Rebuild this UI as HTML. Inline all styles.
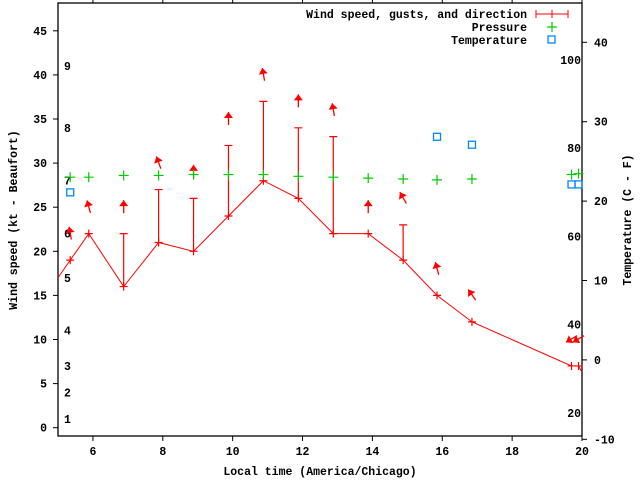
<!DOCTYPE html>
<html><head><meta charset="utf-8"><style>
html,body{margin:0;padding:0;background:#fff}
svg{display:block}
text{font-family:"Liberation Mono",monospace;font-weight:bold;font-size:11.5px;fill:#000}
</style></head><body>
<svg id="chart" width="640" height="480" viewBox="0 0 640 480" xmlns="http://www.w3.org/2000/svg">
<g id="axes"></g>
<g id="marks"></g>
<g id="legend">
 <text x="527" y="18" text-anchor="end">Wind speed, gusts, and direction</text>
 <line x1="536" y1="14" x2="568" y2="14" stroke="#f00" stroke-width="1"/>
 <line x1="536" y1="10" x2="536" y2="18" stroke="#f00"/><line x1="568" y1="10" x2="568" y2="18" stroke="#f00"/>
 <line x1="548" y1="14" x2="556" y2="14" stroke="#f00"/><line x1="552" y1="10" x2="552" y2="18" stroke="#f00"/>
 <text x="527" y="31" text-anchor="end">Pressure</text>
 <path d="M547 27H557M552 22V32" stroke="#0c0" stroke-width="1.2"/>
 <text x="527" y="44" text-anchor="end">Temperature</text>
 <rect x="548" y="36" width="7" height="7" fill="none" stroke="#08f" stroke-width="1.3"/>
</g>
<text x="320" y="475" text-anchor="middle">Local time (America/Chicago)</text>
<text transform="translate(17,220) rotate(-90)" text-anchor="middle">Wind speed (kt - Beaufort)</text>
<text transform="translate(631,220) rotate(-90)" text-anchor="middle">Temperature (C - F)</text>
</svg>
<script>
const hours = [5.35,5.88,6.88,7.88,8.88,9.88,10.88,11.88,12.88,13.88,14.88,15.85,16.85,19.7,19.9];
const windSpeed = [19,22,16,21,20,24,28,26,22,22,19,15,12,7,7];
const windGust = [null,null,22,27,26,32,37,34,33,null,23,null,null,null,null];
const windDir = [170,165,180,160,180,180,170,180,170,180,150,165,145,60,60];
const pressure = [28.4,28.4,28.6,28.6,28.7,28.7,28.7,28.5,28.4,28.3,28.2,28.1,28.2,28.7,28.8];
const tempHours = [5.35,15.85,16.85,19.7,19.9];
const tempC = [21.1,28.1,27.1,22.1,22.1];
const xTicks = [6,8,10,12,14,16,18,20];
const yTicks = [0,5,10,15,20,25,30,35,40,45];
const y2Ticks = [-10,0,10,20,30,40];
const fTicks = [20,40,60,80,100];
const beaufort = [[1,1],[2,4],[3,7],[4,11],[5,17],[6,22],[7,28],[8,34],[9,41]];

const L=58,R=582,T=3,B=436;
const X=h=>L+(h-5)/15*(R-L);
const Y=v=>427.7-v*8.82;
const Y2=c=>121.7-(c-30)*7.94;
const NS="http://www.w3.org/2000/svg";
function mk(tag,attrs,parent){const e=document.createElementNS(NS,tag);for(const k in attrs)e.setAttribute(k,attrs[k]);parent.appendChild(e);return e;}
const ax=document.getElementById('axes'), mg=document.getElementById('marks');

let fr=mk('rect',{x:L,y:T,width:R-L,height:B-T,fill:'none',stroke:'#000','stroke-width':1.3},ax);


xTicks.forEach(t=>{
 const x=X(t);
 mk('line',{x1:x,y1:B,x2:x,y2:B+5,stroke:'#000'},ax);
 mk('line',{x1:x,y1:T,x2:x,y2:T-4,stroke:'#000'},ax);
 const tx=mk('text',{x:x,y:B+19,'text-anchor':'middle'},ax);tx.textContent=t;
 
 
});
yTicks.forEach(t=>{
 const y=Y(t);
 mk('line',{x1:L-5,y1:y,x2:L,y2:y,stroke:'#000'},ax);
 const tx=mk('text',{x:L-11,y:y+4,'text-anchor':'end'},ax);tx.textContent=t;
 
 
});
y2Ticks.forEach(t=>{
 const y=Y2(t);
 mk('line',{x1:R,y1:y,x2:R+5,y2:y,stroke:'#000'},ax);
 const tx=mk('text',{x:R+12,y:y+4,'text-anchor':'start'},ax);tx.textContent=t;
 
 
});
fTicks.forEach(f=>{
 const y=Y2((f-32)*5/9);
 const tx=mk('text',{x:R-1,y:y+4,'text-anchor':'end'},ax);tx.textContent=f;
 
 
});
beaufort.forEach(b=>{
 const tx=mk('text',{x:64,y:Y(b[1])+4},ax);tx.textContent=b[0];
 
 
});

// wind line
let pts=[[L,Y(17)]].concat(hours.map((h,i)=>[X(h),Y(windSpeed[i])]));pts.push([R,Y(6.3)]);
const wl=mk('polyline',{points:pts.map(p=>p.join(',')).join(' '),fill:'none',stroke:'#f00','stroke-width':1},mg);


hours.forEach((h,i)=>{
 const x=X(h),y=Y(windSpeed[i]);
 if(windGust[i]!=null){
  const g=Y(windGust[i]);
  const eb=mk('path',{d:`M${x} ${y}V${g}M${x-4} ${g}H${x+4}`,stroke:'#f00','stroke-width':1.2,fill:'none'},mg);
  
  
 }
 const p=mk('path',{d:`M${x-4} ${y}H${x+4}M${x} ${y-4}V${y+4}`,stroke:'#f00','stroke-width':1.2},mg);
 
 
 // direction arrow
 const top=Math.max(windSpeed[i],windGust[i]||0);
 const cy=Y(top)-27, cx=x;
 const a=(windDir[i]-180)*Math.PI/180; // 180 = pointing up
 const dx=Math.sin(a),dy=-Math.cos(a);
 const len=13;
 const tx0=cx-dx*len/2, ty0=cy-dy*len/2, hx=cx+dx*len/2, hy=cy+dy*len/2;
 const g=mk('g',{},mg);
 
 
 mk('line',{x1:tx0,y1:ty0,x2:hx,y2:hy,stroke:'#f00','stroke-width':1.3},g);
 const px=-dy,py=dx;
 const bx=hx-dx*6,by=hy-dy*6;
 mk('polygon',{points:`${hx},${hy} ${bx+px*4.5},${by+py*4.5} ${bx-px*4.5},${by-py*4.5}`,fill:'#f00'},g);
});
pressure.forEach((v,i)=>{
 const x=X(hours[i]),y=Y(v);
 const p=mk('path',{d:`M${x-5} ${y}H${x+5}M${x} ${y-5}V${y+5}`,stroke:'#0c0','stroke-width':1.2},mg);
 
 
});
tempC.forEach((c,i)=>{
 const x=X(tempHours[i]),y=Y2(c);
 const r=mk('rect',{x:x-3.5,y:y-3.5,width:7,height:7,fill:'none',stroke:'#08f','stroke-width':1.3},mg);
 
 
});
</script>
</body></html>
